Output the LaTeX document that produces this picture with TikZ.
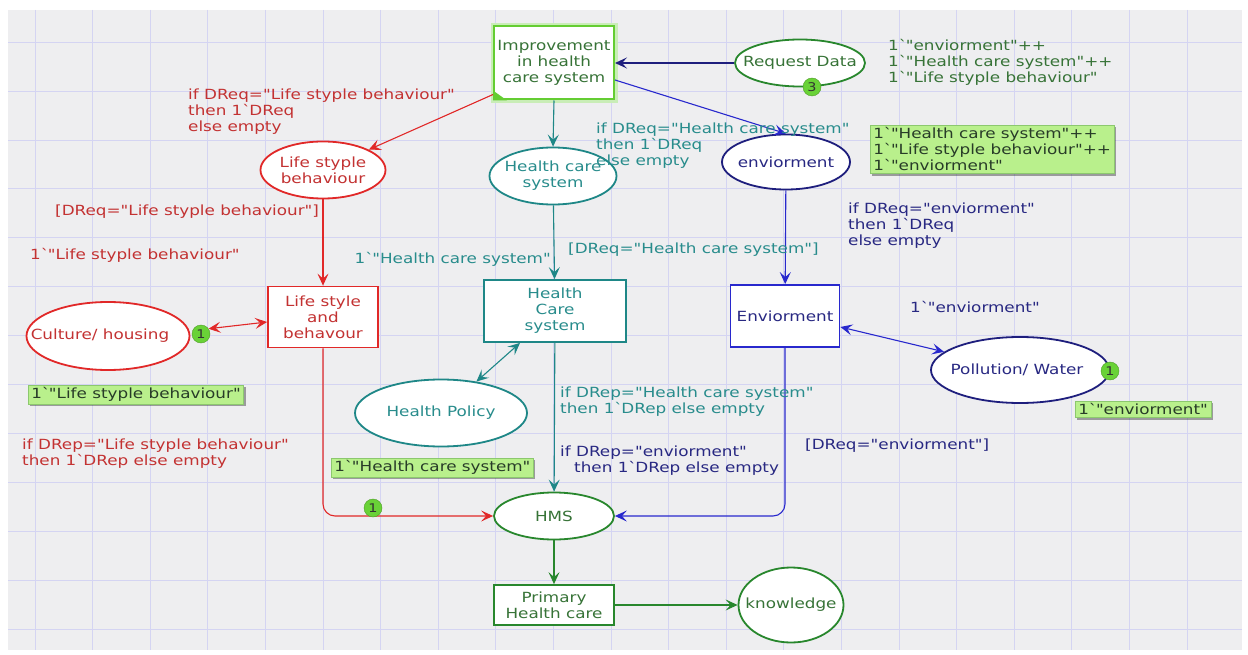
\documentclass[tikz,border=0pt]{standalone}
\usepackage{fontspec}
\setmainfont{DejaVu Sans}[Ligatures=TeXOff, FakeStretch=1.2]
\usetikzlibrary{shapes.geometric,arrows.meta,shadows,calc}
\definecolor{cred}{RGB}{225,40,40}
\definecolor{credt}{RGB}{195,50,50}
\definecolor{cteal}{RGB}{30,135,135}
\definecolor{ctealt}{RGB}{40,140,140}
\definecolor{cblue}{RGB}{40,40,205}
\definecolor{cnavy}{RGB}{30,30,125}
\definecolor{cnavyt}{RGB}{40,40,130}
\definecolor{cgreen}{RGB}{40,135,45}
\definecolor{cgreent}{RGB}{55,115,55}
\definecolor{imprg}{RGB}{100,205,50}
\definecolor{lgreen}{RGB}{185,240,140}
\definecolor{lgreenb}{RGB}{140,200,110}
\definecolor{tokgreen}{RGB}{105,210,55}
\definecolor{bgc}{RGB}{238,238,240}
\definecolor{gridc}{RGB}{212,212,242}
\definecolor{boxt}{RGB}{40,60,40}
\newcommand{\bq}{\textasciigrave}
\tikzset{
  place/.style={ellipse, draw, fill=white, line width=1.8pt, inner sep=0pt},
  ptext/.style={align=center, inner sep=0pt},
  trans/.style={rectangle, draw, fill=white, line width=1.8pt, inner sep=0pt, align=center},
  lbl/.style={align=left, inner sep=0pt, anchor=north west},
  tok/.style={circle, fill=tokgreen, draw=tokgreen!75!black, line width=0.4pt, inner sep=0pt, minimum size=18pt, text=black!80, font=\fontsize{12}{12}\selectfont},
  mbox/.style={fill=lgreen, draw=lgreenb, line width=0.6pt, inner xsep=3pt, inner ysep=2.5pt, align=left, anchor=north west, text=boxt, drop shadow={shadow xshift=2pt, shadow yshift=-2pt, opacity=0.35, fill=black}},
  arr/.style={-{Stealth[length=12pt,width=11pt,inset=5pt]}, line width=1.1pt},
  darr/.style={{Stealth[length=12pt,width=11pt,inset=5pt]}-{Stealth[length=12pt,width=11pt,inset=5pt]}, line width=1.1pt},
}
\begin{document}
\begin{tikzpicture}[x=1pt,y=-1pt,font=\fontsize{14}{16}\selectfont]
\useasboundingbox (0,0) rectangle (1248,655);
\fill[white] (0,0) rectangle (1248,655);
\fill[bgc] (8,10) rectangle (1242,650);
\foreach \gx in {35,92.6,...,1242} \draw[gridc, line width=0.8pt] (\gx,10) -- (\gx,650);
\foreach \gy in {42.2,91.1,...,650} \draw[gridc, line width=0.8pt] (8,\gy) -- (1242,\gy);

% transitions
\node[trans, draw=imprg, line width=2pt, preaction={draw=imprg!35, line width=7pt}, minimum width=120pt, minimum height=73pt, text=cgreent] (imp) at (554,63) {Improvement\\in health\\care system};
\fill[imprg] (imp.south west) -- ++(14,0) -- ++(-14,-10) -- cycle;
\node[trans, draw=cred, text=credt, minimum width=110pt, minimum height=61pt] (lsab) at (323,317) {Life style\\and\\behavour};
\node[trans, draw=cteal, text=ctealt, minimum width=142pt, minimum height=62pt] (hct) at (555,311) {Health\\Care\\system};
\node[trans, draw=cblue, text=cnavyt, minimum width=109pt, minimum height=62pt] (envt) at (785,316) {Enviorment};
\node[trans, draw=cgreen, text=cgreent, minimum width=120pt, minimum height=40pt] (phc) at (554,605) {Primary\\Health care};

% places
\node[place, draw=cgreen, minimum width=130pt, minimum height=47pt] (req) at (800,63) {};
\node[ptext, text=cgreent] (reqt) at (800,63) {Request Data};
\node[place, draw=cred, minimum width=125pt, minimum height=57pt] (lsb) at (323,170) {};
\node[ptext, text=credt] (lsbt) at (323,170) {Life styple\\behaviour};
\node[place, draw=cteal, minimum width=127pt, minimum height=57pt] (hcs) at (553,176) {};
\node[ptext, text=ctealt] (hcst) at (553,176) {Health care\\system};
\node[place, draw=cnavy, minimum width=128pt, minimum height=55pt] (envp) at (786,162) {};
\node[ptext, text=cnavyt] (envpt) at (786,162) {enviorment};
\node[place, draw=cred, minimum width=163pt, minimum height=68pt] (cult) at (108,336) {};
\node[ptext, text=credt] (cultt) at (100,336) {Culture/ housing};
\node[place, draw=cteal, minimum width=172pt, minimum height=67pt] (hp) at (441,413) {};
\node[ptext, text=ctealt] (hpt) at (441,413) {Health Policy};
\node[place, draw=cnavy, minimum width=178pt, minimum height=66pt] (pol) at (1020,370) {};
\node[ptext, text=cnavyt] (polt) at (1017,370) {Pollution/ Water};
\node[place, draw=cgreen, minimum width=120pt, minimum height=47pt] (hms) at (554,516) {};
\node[ptext, text=cgreent] (hmst) at (554,516) {HMS};
\node[place, draw=cgreen, minimum width=105pt, minimum height=75pt] (know) at (791,605) {};
\node[ptext, text=cgreent] (knowt) at (791,605) {knowledge};

% tokens
\node[tok] (tok3) at (812,87) {3};
\node[tok] (tokc) at (201,334) {1};
\node[tok] (tokp) at (1110,371) {1};

% arcs
\draw[arr, cnavy] (req) -- (imp);
\draw[arr, cred] ($(imp.south west)+(0,-6)$) -- (lsb);
\draw[arr, cteal] (imp.south) -- (hcs.north);
\draw[arr, cblue] ($(imp.east)+(0,17)$) -- (envp.north);
\draw[arr, cred] (lsb) -- (lsab);
\draw[darr, cred] (tokc.35) -- ($(lsab.west)+(0,5)$);
\draw[arr, cteal] (hcs) -- (hct);
\draw[darr, cteal] ($(hct.south)+(-35,0)$) -- (hp);
\draw[arr, cblue] (envp) -- (envt);
\draw[darr, cblue] ($(envt.east)+(0,11)$) -- (pol);
\draw[arr, cred, rounded corners=12pt] (lsab.south) |- (hms.west);
\draw[arr, cteal] (hct) -- (hms);
\draw[arr, cblue, rounded corners=12pt] (envt.south) |- (hms.east);
\draw[arr, cgreen] (hms) -- (phc);
\draw[arr, cgreen] (phc) -- (know);
\node[tok] (tokh) at (373,508) {1};

% labels
\node[lbl, text=cgreent] (reqlbl) at (888,39) {1\bq"enviorment"++\\1\bq"Health care system"++\\1\bq"Life styple behaviour"};
\node[lbl, text=credt] (l1) at (188,89) {if DReq="Life styple behaviour"\\then 1\bq DReq\\else empty};
\node[lbl, text=ctealt] (l2) at (596,123) {if DReq="Health care system"\\then 1\bq DReq\\else empty};
\node[lbl, text=cnavyt] (l3) at (848,203) {if DReq="enviorment"\\then 1\bq DReq\\else empty};
\node[lbl, text=credt] (l4) at (55,205) {[DReq="Life styple behaviour"]};
\node[lbl, text=credt] (l5) at (30,248) {1\bq"Life styple behaviour"};
\node[lbl, text=ctealt, anchor=north east] (l6) at (551,252) {1\bq"Health care system"};
\node[lbl, text=ctealt] (l7) at (568,243) {[DReq="Health care system"]};
\node[lbl, text=cnavyt] (l8) at (910,301) {1\bq"enviorment"};
\node[lbl, text=credt] (l9) at (22,439) {if DRep="Life styple behaviour"\\then 1\bq DRep else empty};
\node[lbl, text=ctealt] (l10) at (560,387) {if DRep="Health care system"\\then 1\bq DRep else empty};
\node[lbl, text=cnavyt] (l11) at (560,446) {if DRep="enviorment"\\\hspace{14pt}then 1\bq DRep else empty};
\node[lbl, text=cnavyt] (l12) at (805,439) {[DReq="enviorment"]};

\node[mbox] (b1) at (870,125) {1\bq"Health care system"++\\1\bq"Life styple behaviour"++\\1\bq"enviorment"};
\node[mbox] (b2) at (28,385) {1\bq"Life styple behaviour"};
\node[mbox] (b3) at (331,458) {1\bq"Health care system"};
\node[mbox] (b4) at (1075,401) {1\bq"enviorment"};
\end{tikzpicture}
\end{document}
